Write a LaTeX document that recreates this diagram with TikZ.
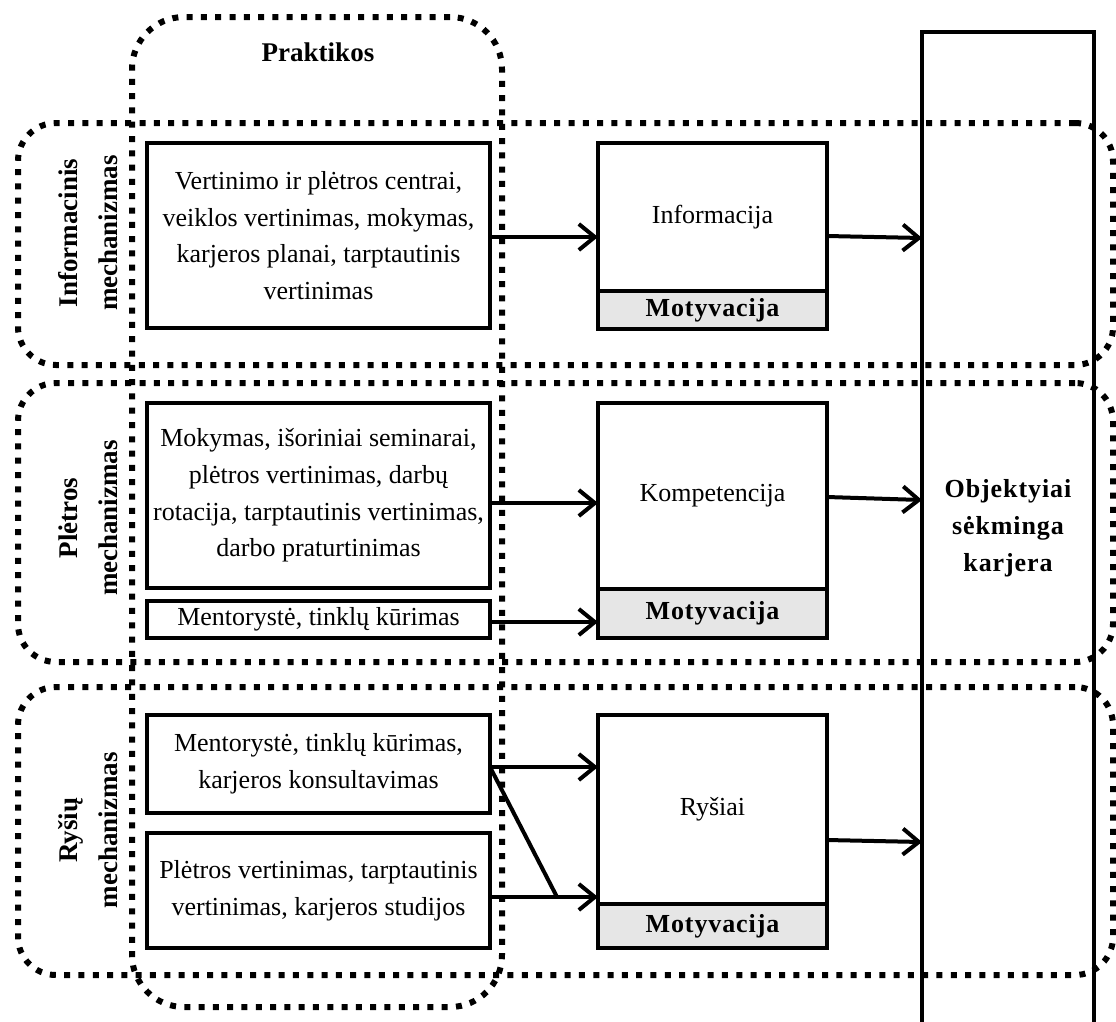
\documentclass[tikz,border=0pt]{standalone}
\usepackage{fontspec}
\setmainfont{Liberation Serif}
\newfontfamily\spacedserif[LetterSpace=3.5]{Liberation Serif}
\usetikzlibrary{arrows.meta}
\definecolor{motgray}{HTML}{E6E6E6}
\begin{document}
\begin{tikzpicture}[x=1pt,y=-1pt,
  dotbox/.style={draw, line width=6pt, dash pattern=on 6pt off 8.3pt, rectangle, inner sep=0pt, outer sep=0pt},
  solidbox/.style={draw, line width=3.5pt, rectangle, inner sep=0pt, outer sep=0pt, align=center, font=\fontsize{26}{36.7}\selectfont},
  motbox/.style={solidbox, fill=motgray, font=\spacedserif\bfseries\fontsize{26}{30}\selectfont},
  arr/.style={line width=4pt, -{Straight Barb[length=16pt,width=26pt]}},
  plain/.style={line width=4pt},
  lbl/.style={font=\bfseries\fontsize{27}{40}\selectfont, align=center, inner sep=0pt}]
\useasboundingbox (0,0) rectangle (1116,1021);

% dotted containers
\node[dotbox, rounded corners=52pt, minimum width=370pt, minimum height=990pt] (prak) at (317,512) {};
\node[dotbox, rounded corners=38pt, minimum width=1095pt, minimum height=242pt] (bandI) at (565.5,244) {};
\node[dotbox, rounded corners=38pt, minimum width=1095pt, minimum height=279pt] (bandP) at (565.5,522.5) {};
\node[dotbox, rounded corners=38pt, minimum width=1095pt, minimum height=288pt] (bandR) at (565.5,831) {};

% labels
\node[lbl] (prakt) at (318,52) {Praktikos};
\node[lbl, rotate=90] (lblI) at (88,233) {Informacinis\\mechanizmas};
\node[lbl, rotate=90] (lblP) at (88,518) {Plėtros\\mechanizmas};
\node[lbl, rotate=90] (lblR) at (88,830) {Ryšių\\mechanizmas};

% practice boxes
\node[solidbox, minimum width=343pt, minimum height=185pt] (b1) at (318.5,235.5)
  {Vertinimo ir plėtros centrai,\\veiklos vertinimas, mokymas,\\karjeros planai, tarptautinis\\vertinimas};
\node[solidbox, minimum width=343pt, minimum height=185pt] (p1) at (318.5,495.5)
  {Mokymas, išoriniai seminarai,\\plėtros vertinimas, darbų\\rotacija, tarptautinis vertinimas,\\darbo praturtinimas};
\node[solidbox, minimum width=343pt, minimum height=37pt] (p2) at (318.5,619.5)
  {Mentorystė, tinklų kūrimas};
\node[solidbox, minimum width=343pt, minimum height=98pt] (r1) at (318.5,764)
  {Mentorystė, tinklų kūrimas,\\karjeros konsultavimas};
\node[solidbox, minimum width=343pt, minimum height=115pt] (r2) at (318.5,890.5)
  {Plėtros vertinimas, tarptautinis\\vertinimas, karjeros studijos};

% outcome boxes
\node[solidbox, minimum width=229pt, minimum height=148pt] (info) at (712.5,217) {Informacija};
\node[motbox, minimum width=229pt, minimum height=38pt] (mot1) at (712.5,310) {Motyvacija};
\node[solidbox, minimum width=229pt, minimum height=186pt] (komp) at (712.5,496) {Kompetencija};
\node[motbox, minimum width=229pt, minimum height=49pt] (mot2) at (712.5,613.5) {Motyvacija};
\node[solidbox, minimum width=229pt, minimum height=189pt] (rys) at (712.5,809.5) {Ryšiai};
\node[motbox, minimum width=229pt, minimum height=44pt] (mot3) at (712.5,926) {Motyvacija};

% final column
\node[minimum width=172pt, minimum height=1000pt, inner sep=0pt, outer sep=0pt] (obj) at (1008,532) {};
\draw[line width=4pt] (obj.south west) -- (obj.north west) -- (obj.north east) -- (obj.south east);
\node[lbl, font=\spacedserif\bfseries\fontsize{26}{37}\selectfont] (objtxt) at (1008,528) {Objektyiai\\sėkminga\\karjera};

% connectors
\draw[arr] (b1.east |- 0,237) -- (info.west |- 0,237);
\draw[arr] (info.east |- 0,236) -- (obj.west |- 0,238);
\draw[arr] (p1.east |- 0,503) -- (komp.west |- 0,503);
\draw[arr] (p2.east |- 0,622) -- (mot2.west |- 0,622);
\draw[arr] (komp.east |- 0,497) -- (obj.west |- 0,500);
\coordinate (rj) at (557,897);
\draw[arr] (r1.east |- 0,767) -- (rys.west |- 0,767);
\draw[arr] (r2.east |- 0,897) -- (rys.west |- 0,897);
\draw[plain] (r1.east |- 0,767) -- (rj);
\draw[arr] (rys.east |- 0,840) -- (obj.west |- 0,842);
\end{tikzpicture}
\end{document}
